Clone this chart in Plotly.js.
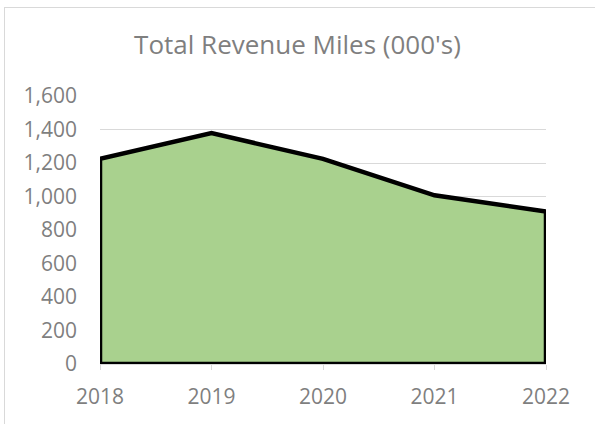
<!DOCTYPE html>
<html>
<head>
<meta charset="utf-8">
<script src="https://cdn.plot.ly/plotly-3.0.1.min.js"></script>
<style>
html,body{margin:0;padding:0;background:#fff;overflow:hidden;}
#chart{position:absolute;left:0;top:0;width:595px;height:424px;}
#frame{position:absolute;left:4px;top:7px;width:700px;height:600px;border-left:1px solid #d9d9d9;border-top:1px solid #d9d9d9;pointer-events:none;}
</style>
</head>
<body>
<div id="chart"></div>
<div id="frame"></div>
<script>
const years = [2018, 2019, 2020, 2021, 2022];
const revenueMiles = [1225, 1378, 1225, 1007, 910];
const yTicks = [0, 200, 400, 600, 800, 1000, 1200, 1400, 1600];
const yTickLabels = ['0', '200', '400', '600', '800', '1,000', '1,200', '1,400', '1,600'];

// closed outline built from the data arrays
const xs = [years[0]].concat(years, [years[years.length - 1], years[0]]);
const ys = [0].concat(revenueMiles, [0, 0]);

const trace = {
  x: xs, y: ys, type: 'scatter', mode: 'lines', fill: 'toself',
  fillcolor: '#a9d18e', line: {color: '#000000', width: 4.5, shape: 'linear'},
  cliponaxis: false, hoverinfo: 'skip', showlegend: false
};

const font = 'Open Sans, Noto Sans, sans-serif';
const layout = {
  width: 595, height: 424,
  margin: {l: 100, r: 49, t: 96, b: 60},
  paper_bgcolor: '#ffffff', plot_bgcolor: '#ffffff',
  title: {text: "Total Revenue Miles (000's)", x: 0.5, xanchor: 'center', y: 0.894, yanchor: 'middle',
          font: {family: font, size: 26, color: '#7f7f7f'}},
  xaxis: {range: [2018, 2022], tickvals: years, ticktext: years.map(String),
          showgrid: false, zeroline: false, showline: true, linecolor: '#d9d9d9', linewidth: 1,
          ticks: 'outside', ticklen: 5, tickcolor: '#d9d9d9', ticklabelstandoff: 9,
          tickfont: {family: font, size: 21, color: '#7f7f7f'}},
  yaxis: {range: [0, 1600], tickvals: yTicks, ticktext: yTickLabels,
          showgrid: true, gridcolor: '#d9d9d9', gridwidth: 1, zeroline: false, showline: false,
          ticks: '', ticklabelstandoff: 22,
          tickfont: {family: font, size: 21, color: '#7f7f7f'}},
  showlegend: false
};

Plotly.newPlot('chart', [trace], layout, {displayModeBar: false, staticPlot: true});
</script>
</body>
</html>
